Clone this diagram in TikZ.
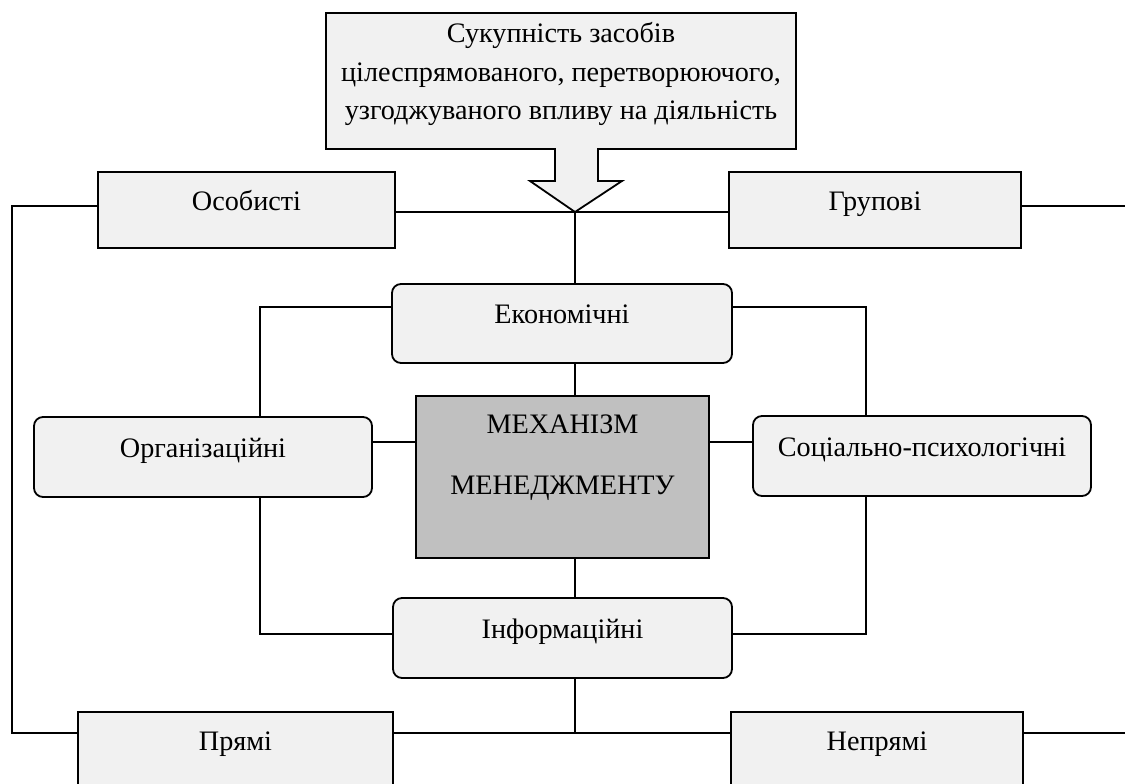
\documentclass[tikz,border=0pt]{standalone}
\usepackage{fontspec}
\setmainfont{Liberation Serif}
\usepackage{tikz}
\definecolor{boxgray}{RGB}{241,241,241}
\definecolor{coregray}{RGB}{192,192,192}

\begin{document}
\begin{tikzpicture}[x=1pt,y=-1pt,
    box/.style={draw, line width=1.8pt, fill=boxgray, inner sep=0pt,
        font=\fontsize{28.2}{38.5}\selectfont, text height=20pt, text depth=20pt},
    rbox/.style={box, rounded corners=9pt},
    link/.style={line width=1.1pt}]

%the frame of the page
    \clip (0,0) rectangle (1125,784);

%the upper row
    \node[box, align=center, minimum width=470pt, minimum height=136pt,
        text height=97pt] (aims) at (561,81)
        {Сукупність засобів\\цілеспрямованого, перетворюючого,\\узгоджуваного впливу на діяльність};
    \node[box, minimum width=297pt, minimum height=76pt] (osob) at (246.5,210) {Особисті};
    \node[box, minimum width=292pt, minimum height=76pt] (grup) at (875,210) {Групові};

%the ring round the core
    \node[rbox, minimum width=340pt, minimum height=79pt] (econ) at (562,323.5) {Економічні};
    \node[rbox, minimum width=338pt, minimum height=80pt] (org) at (203,457) {Організаційні};
    \node[box, fill=coregray, align=center, minimum width=293pt, minimum height=162pt,
        text height=54pt] (mex) at (562.5,477) {МЕХАНІЗМ\\[22pt]МЕНЕДЖМЕНТУ};
    \node[rbox, minimum width=338pt, minimum height=80pt] (soc) at (922,456) {Соціально-психологічні};
    \node[rbox, minimum width=339pt, minimum height=80pt] (inf) at (562.5,638) {Інформаційні};

%the lower row
    \node[box, minimum width=315pt, minimum height=76pt] (pryam) at (235.5,750) {Прямі};
    \node[box, minimum width=292pt, minimum height=76pt] (nepr) at (877,750) {Непрямі};

% the meeting points of the lines
    \coordinate (tip) at (575,212);
    \coordinate (bus) at (575,733);
    \coordinate (lft) at (12,206);
    \coordinate (ul) at (260,307);
    \coordinate (ur) at (866,307);
    \coordinate (dl) at (260,634);
    \coordinate (dr) at (866,634);
    \coordinate (mid) at (562,442);

    \draw[link] (osob.east |- tip) -- (grup.west |- tip);
    \draw[link] (tip) -- (tip |- econ.north);
    \draw[link] (econ.south -| tip) -- (tip |- mex.north);
    \draw[link] (mex.south -| tip) -- (tip |- inf.north);
    \draw[link] (inf.south -| tip) -- (bus);
    \draw[link] (pryam.east |- bus) -- (nepr.west |- bus);
    \draw[link] (pryam.west |- bus) -| (lft) -- (osob.west |- lft);
    \draw[link] (grup.east |- lft) -- (1125,206);
    \draw[link] (nepr.east |- bus) -- (1125,733);

    \draw[link] (econ.west |- ul) -- (ul) -- (ul |- org.north);
    \draw[link] (econ.east |- ur) -- (ur) -- (ur |- soc.north);
    \draw[link] (org.south -| dl) -- (dl) -- (inf.west |- dl);
    \draw[link] (soc.south -| dr) -- (dr) -- (inf.east |- dr);
    \draw[link] (org.east |- mid) -- (mex.west |- mid);
    \draw[link] (mex.east |- mid) -- (soc.west |- mid);

% the block arrow under the upper box
    \fill[boxgray] (555,148) -- (555,181) -- (530,181) -- (tip) -- (622,181) -- (598,181) -- (598,148) -- cycle;
    \draw[line width=1.8pt, line join=miter] (555,148) -- (555,181) -- (530,181) -- (tip) -- (622,181) -- (598,181) -- (598,148);
\end{tikzpicture}
\end{document}
